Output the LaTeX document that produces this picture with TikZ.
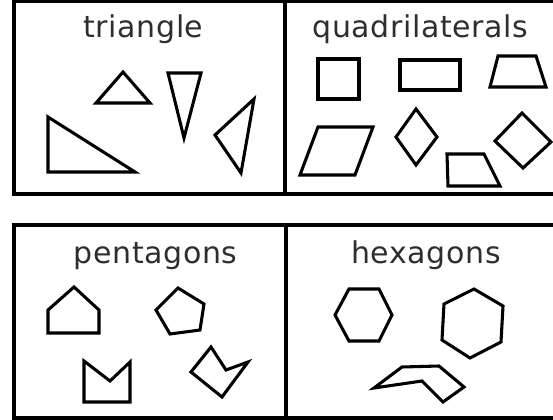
\documentclass[tikz,border=0pt]{standalone}
\usepackage{fontspec}
\newfontfamily\labfont[LetterSpace=2]{DejaVu Sans}
\begin{document}
\begin{tikzpicture}[x=0.75pt,y=-0.75pt,
  frame/.style={line width=3pt,draw=black},
  shp/.style={line width=2.3pt,draw=black,line join=miter},
  lab/.style={font=\labfont\fontsize{22.5}{27}\selectfont,text=black!82,anchor=base,inner sep=0pt}]
\useasboundingbox (0,0) rectangle (553,420);
% frames
\draw[frame] (600,1.5) -- (14,1.5) -- (14,194.5) -- (600,194.5);
\draw[frame] (284.5,1.5) -- (284.5,194.5);
\draw[frame] (600,225) -- (14,225) -- (14,417.5) -- (600,417.5);
\draw[frame] (285.5,225) -- (285.5,417.5);
% labels
\node[lab] (t1) at (143.5,38) {triangle};
\node[lab] (t2) at (420.5,38) {quadrilaterals};
\node[lab] (t3) at (155.5,264) {pentagons};
\node[lab] (t4) at (426,264) {hexagons};
% triangles
\draw[shp] (123,72) -- (96,103) -- (150,103) -- cycle;
\draw[shp] (168,73) -- (201,73) -- (184,138) -- cycle;
\draw[shp] (48,117) -- (48,172) -- (135,172) -- cycle;
\draw[shp] (254,99) -- (215,135) -- (241,173) -- cycle;
% quadrilaterals
\draw[shp] (318,59) rectangle (359,99);
\draw[shp] (400,60) rectangle (460,90);
\draw[shp] (498,56) -- (536,56) -- (546,87) -- (490,87) -- cycle;
\draw[shp] (318,127) -- (373,127) -- (355,175) -- (300,175) -- cycle;
\draw[shp] (416,109) -- (437,137) -- (416,165) -- (396,137) -- cycle;
\draw[shp] (447,154) -- (484,154) -- (500,186) -- (448,186) -- cycle;
\draw[shp] (522,113) -- (551,142) -- (523,168) -- (495,141) -- cycle;
% pentagons
\draw[shp] (74,287) -- (99,310) -- (99,333) -- (48,333) -- (48,310) -- cycle;
\draw[shp] (178,288) -- (204,304) -- (200,330) -- (170,334) -- (156,310) -- cycle;
\draw[shp] (84,361) -- (84,402) -- (130,402) -- (130,362) -- (110,381) -- cycle;
\draw[shp] (211,347) -- (226,370) -- (248,362) -- (222,397) -- (191,372) -- cycle;
% hexagons
\draw[shp] (349,289) -- (379,289) -- (392,315) -- (379,341) -- (349,341) -- (335,315) -- cycle;
\draw[shp] (474,289) -- (503,306) -- (501,342) -- (470,358) -- (442,340) -- (444,304) -- cycle;
\draw[shp] (374,388) -- (402,367) -- (439,366) -- (464,387) -- (443,402) -- (422,381) -- cycle;
\end{tikzpicture}
\end{document}
